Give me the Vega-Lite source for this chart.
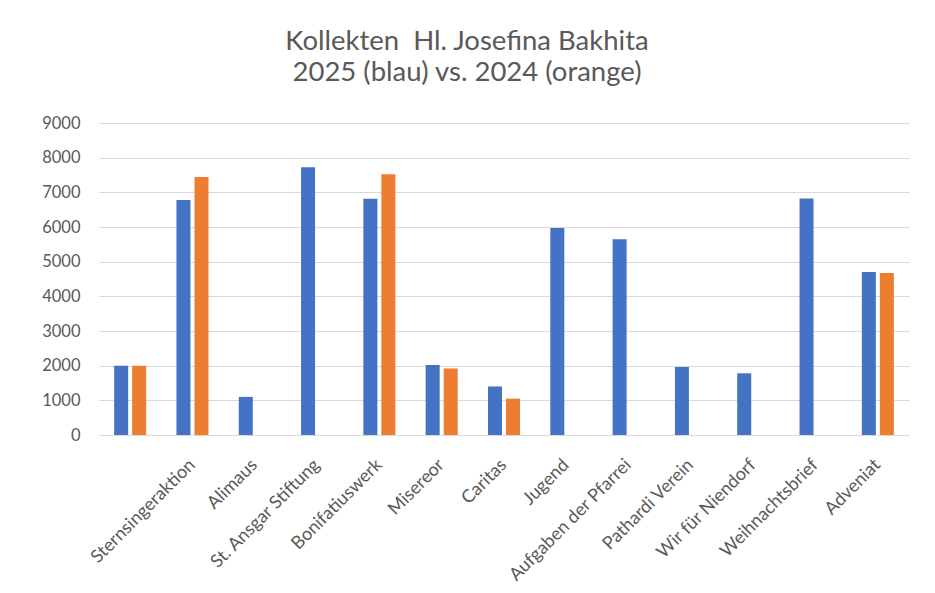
{
  "$schema": "https://vega.github.io/schema/vega-lite/v6.json",
  "width": 810,
  "height": 312,
  "autosize": "none",
  "padding": {"left": 99, "top": 123, "right": 26, "bottom": 158},
  "background": "white",
  "title": {
    "text": ["Kollekten \u00a0Hl. Josefina Bakhita", "2025 (blau) vs. 2024 (orange)"],
    "font": "Lato",
    "fontSize": 27.5,
    "fontWeight": "normal",
    "color": "#595959",
    "anchor": "middle",
    "frame": "group",
    "dx": -37,
    "dy": 25,
    "baseline": "bottom",
    "offset": 26,
    "lineHeight": 31
  },
  "data": {
    "values": [
      {"Kollekte": " ", "Jahr": "2025", "Betrag": 2000},
      {"Kollekte": " ", "Jahr": "2024", "Betrag": 2000},
      {"Kollekte": "Sternsingeraktion", "Jahr": "2025", "Betrag": 6780},
      {"Kollekte": "Sternsingeraktion", "Jahr": "2024", "Betrag": 7440},
      {"Kollekte": "Alimaus", "Jahr": "2025", "Betrag": 1100},
      {"Kollekte": "St. Ansgar Stiftung", "Jahr": "2025", "Betrag": 7720},
      {"Kollekte": "Bonifatiuswerk", "Jahr": "2025", "Betrag": 6815},
      {"Kollekte": "Bonifatiuswerk", "Jahr": "2024", "Betrag": 7525},
      {"Kollekte": "Misereor", "Jahr": "2025", "Betrag": 2020},
      {"Kollekte": "Misereor", "Jahr": "2024", "Betrag": 1915},
      {"Kollekte": "Caritas", "Jahr": "2025", "Betrag": 1400},
      {"Kollekte": "Caritas", "Jahr": "2024", "Betrag": 1050},
      {"Kollekte": "Jugend", "Jahr": "2025", "Betrag": 5970},
      {"Kollekte": "Aufgaben der Pfarrei", "Jahr": "2025", "Betrag": 5650},
      {"Kollekte": "Pathardi Verein", "Jahr": "2025", "Betrag": 1965},
      {"Kollekte": "Wir für Niendorf", "Jahr": "2025", "Betrag": 1780},
      {"Kollekte": "Weihnachtsbrief", "Jahr": "2025", "Betrag": 6825},
      {"Kollekte": "Adveniat", "Jahr": "2025", "Betrag": 4705},
      {"Kollekte": "Adveniat", "Jahr": "2024", "Betrag": 4670}
    ]
  },
  "mark": {"type": "bar"},
  "encoding": {
    "x": {
      "field": "Kollekte",
      "type": "nominal",
      "sort": null,
      "title": null,
      "scale": {"paddingInner": 0.486, "paddingOuter": 0.243},
      "axis": {
        "labelAngle": -45,
        "labelAlign": "right",
        "labelBaseline": "middle",
        "labelFont": "Lato",
        "labelFontSize": 18,
        "labelColor": "#595959",
        "labelLimit": 400,
        "labelOverlap": false,
        "labelPadding": 27,
        "ticks": false,
        "domainColor": "#D9D9D9",
        "domainWidth": 1,
        "grid": false
      }
    },
    "xOffset": {
      "field": "Jahr",
      "type": "nominal",
      "scale": {"domain": ["2025", "2024"], "paddingInner": 0.222}
    },
    "y": {
      "field": "Betrag",
      "type": "quantitative",
      "title": null,
      "scale": {"domain": [0, 9000]},
      "axis": {
        "values": [0, 1000, 2000, 3000, 4000, 5000, 6000, 7000, 8000, 9000],
        "format": "d",
        "labelFont": "Lato",
        "labelFontSize": 16.5,
        "labelColor": "#595959",
        "labelPadding": 19,
        "ticks": false,
        "domain": false,
        "gridColor": "#D9D9D9",
        "gridWidth": 1
      }
    },
    "color": {
      "field": "Jahr",
      "type": "nominal",
      "scale": {"domain": ["2025", "2024"], "range": ["#4472C4", "#ED7D31"]},
      "legend": null
    }
  },
  "config": {"view": {"stroke": null}}
}
